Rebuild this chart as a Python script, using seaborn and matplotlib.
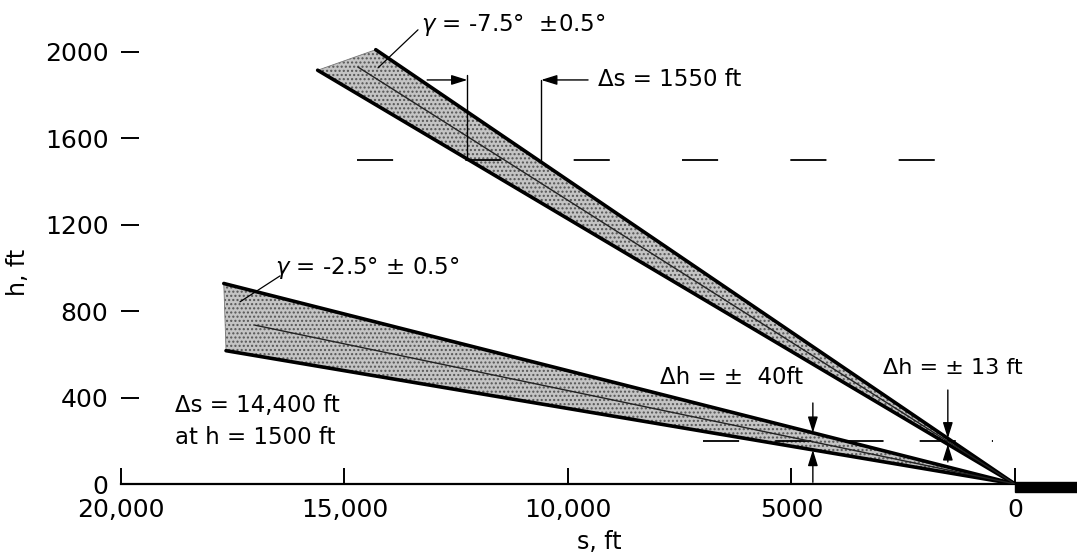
import numpy as np
import pandas as pd
import matplotlib
matplotlib.use("Agg")
import matplotlib.pyplot as plt
import seaborn as sns

# ---------------- data ----------------
wedge_names = ["-7.5°", "-2.5°"]
nominal_angle = [7.5, 2.5]
tolerance = [0.5, 0.5]
# far-end points of each wedge edge (s, h) in ft; every edge starts at (0, 0)
steep_top_edge = [(0, 0), (14300, 2010)]      # -8°
steep_bottom_edge = [(0, 0), (15600, 1915)]   # -7°
steep_center = [(0, 0), (14700, 1930)]        # -7.5°
shallow_top_edge = [(0, 0), (17700, 928)]     # -3°
shallow_bottom_edge = [(0, 0), (17650, 617)]  # -2°
shallow_center = [(0, 0), (17000, 735)]       # -2.5°

ref_heights = [1500, 200]           # dashed reference altitudes
delta_s_1500 = [12250, 10600]       # edge crossings of the steep wedge at h=1500
delta_h_points = [4520, 1500]       # s where Δh is measured at h=200
delta_h_shallow = [158, 237]
delta_h_steep = [184, 211]

x_ticks = [20000, 15000, 10000, 5000, 0]
x_tick_labels = ["20,000", "15,000", "10,000", "5000", "0"]
y_ticks = [0, 400, 800, 1200, 1600, 2000]
y_tick_labels = ["0", "400", "800", "1200", "1600", "2000"]

# ---------------- figure ----------------
sns.set_theme(style="white")
plt.rcParams["font.family"] = ["DejaVu Sans"]
plt.rcParams["text.color"] = "black"
plt.rcParams["axes.labelcolor"] = "black"
plt.rcParams["xtick.color"] = "black"
plt.rcParams["ytick.color"] = "black"
W, H = 1077, 558
fig = plt.figure(figsize=(W / 100, H / 100), dpi=100)
ax = fig.add_axes([121 / W, (H - 484) / H, 1 - 121 / W, 484 / H])
ax.set_xlim(20000, -1390)
ax.set_ylim(0, 2240)

def edge_df(pts, name):
    return pd.DataFrame({"s": [p[0] for p in pts], "h": [p[1] for p in pts], "edge": name})

def fill_wedge(top, bottom):
    poly_s = [0, top[1][0], bottom[1][0]]
    poly_h = [0, top[1][1], bottom[1][1]]
    ax.fill(poly_s, poly_h, facecolor="#c4c4c4", edgecolor="#555555", hatch="....", lw=0, zorder=1)

fill_wedge(steep_top_edge, steep_bottom_edge)
fill_wedge(shallow_top_edge, shallow_bottom_edge)

edges = pd.concat([
    edge_df(steep_top_edge, "st"), edge_df(steep_bottom_edge, "sb"),
    edge_df(shallow_top_edge, "sht"), edge_df(shallow_bottom_edge, "shb"),
])
sns.lineplot(data=edges, x="s", y="h", units="edge", estimator=None, color="black",
             lw=2.6, ax=ax, zorder=3, sort=False)
centers = pd.concat([edge_df(steep_center, "c1"), edge_df(shallow_center, "c2")])
sns.lineplot(data=centers, x="s", y="h", units="edge", estimator=None, color="#222222",
             lw=1.0, ax=ax, zorder=3, sort=False)

# end caps
ax.plot([steep_top_edge[1][0], steep_bottom_edge[1][0]], [steep_top_edge[1][1], steep_bottom_edge[1][1]],
        color="#777777", lw=0.6, zorder=2)
ax.plot([shallow_top_edge[1][0], shallow_bottom_edge[1][0]], [shallow_top_edge[1][1], shallow_bottom_edge[1][1]],
        color="#777777", lw=0.6, zorder=2)

# dashed reference altitudes
ax.plot([14720, 500], [ref_heights[0]] * 2, color="black", lw=1.3, dashes=(20, 40), zorder=2)
ax.plot([6980, 500], [ref_heights[1]] * 2, color="black", lw=1.3, dashes=(20, 20), zorder=2)

# runway
ax.fill([0, -1400, -1400, 0], [8, 8, -37, -37], color="black", clip_on=False, zorder=4)

# Δs dimension at h = 1500
arr = dict(arrowstyle="-|>,head_length=0.8,head_width=0.25", color="black", lw=1.0, shrinkA=0, shrinkB=0)
ax.plot([delta_s_1500[0]] * 2, [ref_heights[0], 1895], color="black", lw=1.0, zorder=3)
ax.plot([delta_s_1500[1]] * 2, [ref_heights[0], 1870], color="black", lw=1.0, zorder=3)
ax.annotate("", xy=(delta_s_1500[0], 1870), xytext=(13150, 1870), arrowprops=arr)
ax.annotate("", xy=(delta_s_1500[1], 1870), xytext=(9550, 1870), arrowprops=arr)

# Δh arrows
ax.annotate("", xy=(delta_h_points[0], delta_h_shallow[1]), xytext=(delta_h_points[0], 375), arrowprops=arr)
ax.annotate("", xy=(delta_h_points[0], delta_h_shallow[0]), xytext=(delta_h_points[0], 8), arrowprops=arr)
ax.annotate("", xy=(delta_h_points[1], delta_h_steep[1]), xytext=(delta_h_points[1], 435), arrowprops=arr)
ax.annotate("", xy=(delta_h_points[1], delta_h_steep[0]), xytext=(delta_h_points[1], 102), arrowprops=arr)

# labels
fs = 16.5
ax.text(13290, 2125, r"$\gamma$" + " = -7.5°  ±0.5°", fontsize=fs, ha="left", va="center")
ax.plot([13355, 14250], [2102, 1926], color="black", lw=0.9, zorder=3)
ax.text(9330, 1870, "Δs = 1550 ft", fontsize=fs, ha="left", va="center")
ax.text(16555, 1000, r"$\gamma$" + " = -2.5° ± 0.5°", fontsize=fs, ha="left", va="center")
ax.plot([16443, 17338], [963, 843], color="black", lw=0.9, zorder=3)
ax.text(18790, 361, "Δs = 14,400 ft", fontsize=fs, ha="left", va="center")
ax.text(18790, 213, "at h = 1500 ft", fontsize=fs, ha="left", va="center")
ax.text(7940, 491, "Δh = ±  40ft", fontsize=fs, ha="left", va="center")
ax.text(2953, 537, "Δh = ± 13 ft", fontsize=fs - 0.5, ha="left", va="center")

# axes styling
for sp in ["left", "top", "right"]:
    ax.spines[sp].set_visible(False)
ax.spines["bottom"].set_bounds(0, 20000)
ax.spines["bottom"].set_color("black")
ax.spines["bottom"].set_linewidth(1.6)
ax.set_xticks(x_ticks)
ax.set_xticklabels(x_tick_labels)
ax.set_yticks(y_ticks)
ax.set_yticklabels(y_tick_labels)
ax.tick_params(axis="x", direction="in", length=11.5, width=1.4, color="black", pad=10,
               labelsize=18, bottom=True, labelcolor="black")
ax.tick_params(axis="y", direction="in", length=13, width=1.4, color="black", pad=9,
               labelsize=18, left=True, labelcolor="black")
ax.yaxis.get_major_ticks()[0].tick1line.set_visible(False)
ax.set_xlabel("s, ft", fontsize=17, labelpad=6, color="black")
ax.set_ylabel("h, ft", fontsize=17, color="black")
ax.yaxis.set_label_coords((30 - 121) / (W - 121), (484 - 272) / 484)
ax.grid(False)

fig.savefig("out.png", dpi=100)
